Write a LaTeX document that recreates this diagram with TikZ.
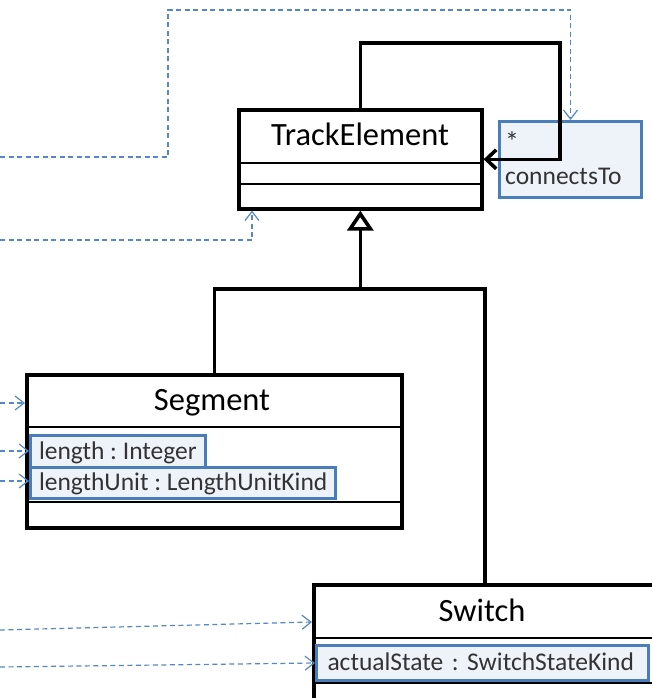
\documentclass[tikz,border=0pt]{standalone}
\usepackage{fontspec}
\setmainfont{Carlito}
\usetikzlibrary{arrows.meta,calc}
\definecolor{umlblue}{RGB}{74,126,187}
\definecolor{attrfill}{RGB}{238,243,250}
\definecolor{deplink}{RGB}{84,135,200}
\definecolor{attrtext}{RGB}{51,51,51}
\frenchspacing

\begin{document}
\begin{tikzpicture}[x=1pt,y=-1pt,
  classbox/.style={draw=black, line width=3.6pt, anchor=north west, inner sep=0pt},
  compart/.style={line width=2.4pt},
  classtitle/.style={anchor=base, inner sep=0pt, font=\fontsize{32.5}{38}\selectfont},
  attrbox/.style={draw=umlblue, fill=attrfill, line width=3pt, anchor=north west,
    inner xsep=8.5pt, inner ysep=0pt, text height=19.5pt, text depth=4.5pt,
    text=attrtext, font=\fontsize{25.5}{30}\selectfont},
  rolelabel/.style={anchor=base west, inner sep=0pt, text=attrtext,
    font=\fontsize{25.5}{30}\selectfont},
  dep/.style={draw=deplink, line width=1.2pt, dash pattern=on 5pt off 3.5pt,
    -{Straight Barb[length=9pt,width=14pt]}},
  assoc/.style={line width=3.6pt, -{Straight Barb[length=10pt,width=19pt]}},
  generalization/.style={line width=3.6pt,
    -{Triangle[open,fill=white,length=20pt,width=26pt]}},
]
\useasboundingbox (0,0) rectangle (652,698);
\clip (0,0) rectangle (652,698);

% TrackElement class
\node[classbox, minimum width=243pt, minimum height=99pt] (te) at (237,108) {};
\draw[compart] (te.west |- 0,163) -- (te.east |- 0,163);
\draw[compart] (te.west |- 0,184) -- (te.east |- 0,184);
\node[classtitle] (teName) at (360,145) {TrackElement};

% association end of the self association
\node[attrbox, minimum width=142pt, minimum height=76pt] (conn) at (498,120) {};
\node[rolelabel, font=\fontsize{28}{30}\selectfont] (connMult) at (505,151) {*};
\node[rolelabel] (connRole) at (505,184) {connectsTo};

% self association connectsTo
\coordinate (loopR) at (560,43);
\draw[assoc] (te.north) |- (loopR) |- (te.east);

% Segment class
\node[classbox, minimum width=375pt, minimum height=153pt] (seg) at (25,373) {};
\draw[compart] (seg.west |- 0,427) -- (seg.east |- 0,427);
\draw[compart] (seg.west |- 0,502) -- (seg.east |- 0,502);
\node[classtitle] (segName) at (212,410) {Segment};
\node[attrbox, minimum height=33pt] (segLen) at (29,434) {length : Integer};
\node[attrbox, minimum height=31pt] (segUnit) at (29,466) {lengthUnit : LengthUnitKind};

% Switch class
\node[classbox, minimum width=342pt, minimum height=140pt] (sw) at (312,583) {};
\draw[compart] (sw.west |- 0,638) -- (sw.east |- 0,638);
\draw[compart] (sw.west |- 0,683) -- (sw.east |- 0,683);
\node[classtitle] (swName) at (482,621) {Switch};
\node[attrbox, minimum height=35pt, inner xsep=11pt, text width=310pt, align=left]
  (swState) at (315,644) {actualState : SwitchStateKind};

% generalization
\coordinate (gj) at (te.south |- 0,289);
\draw[line width=3.6pt] (seg.north) |- (gj) -| (sw.north);
\draw[generalization] (gj) -- (te.south);

% incoming dependency links
\coordinate (d1s) at (0,157);
\coordinate (d1k) at (168,10);
\coordinate (d2s) at (0,240);
\coordinate (d3s) at (0,403);
\coordinate (d4s) at (0,451);
\coordinate (d5s) at (0,481);
\coordinate (d6s) at (0,630);
\coordinate (d7s) at (0,667);
\draw[dep] (d1s) -| (d1k) -| (conn.north);
\draw[dep] (d2s) -| ($(te.south west)+(15,0)$);
\draw[dep] (d3s) -- (d3s -| seg.west);
\draw[dep] (d4s) -- (d4s -| segLen.west);
\draw[dep] (d5s) -- (d5s -| segUnit.west);
\draw[dep] (d6s) -- ($(sw.north west)+(0,39)$);
\draw[dep] (d7s) -- (swState.west);
\end{tikzpicture}
\end{document}
